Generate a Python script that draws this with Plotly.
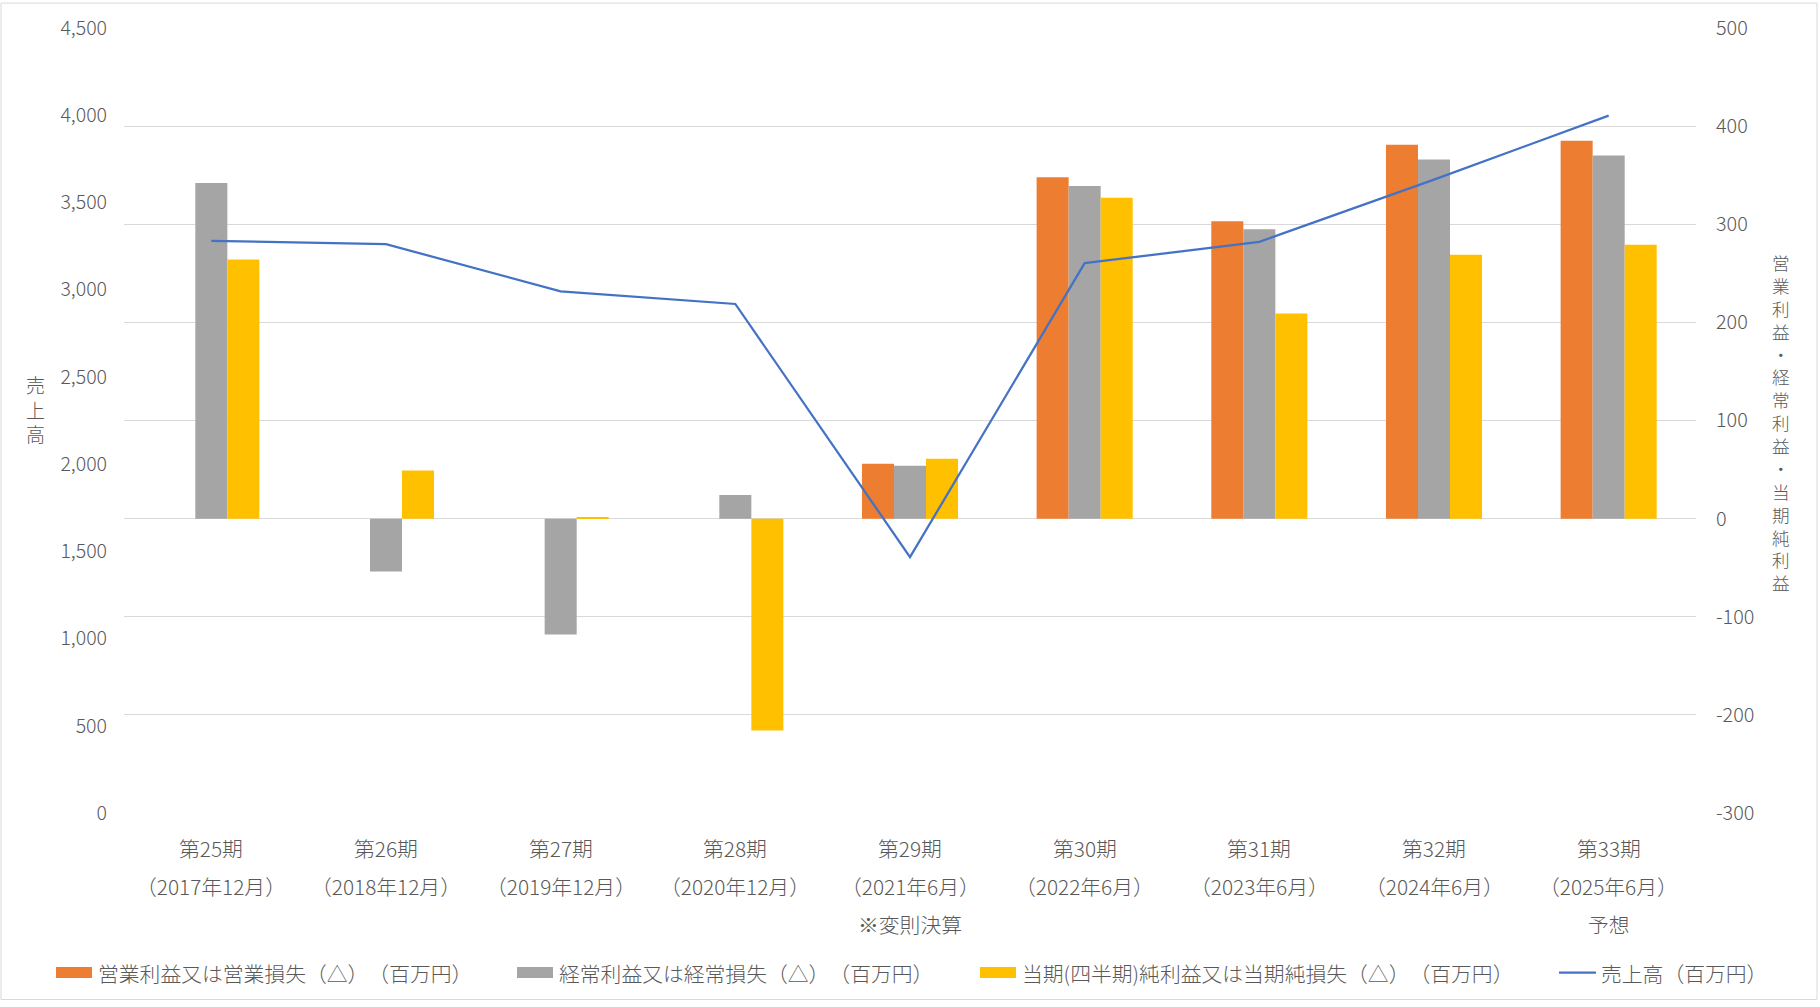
import plotly.graph_objects as go

# ---------------- data ----------------
periods = ["第25期", "第26期", "第27期", "第28期", "第29期", "第30期", "第31期", "第32期", "第33期"]
period_dates = ["（2017年12月）", "（2018年12月）", "（2019年12月）", "（2020年12月）", "（2021年6月）",
                "（2022年6月）", "（2023年6月）", "（2024年6月）", "（2025年6月）"]
period_notes = ["", "", "", "", "※変則決算", "", "", "", "予想"]

operating_income = [None, None, None, None, 56, 348, 303, 381, 385]
ordinary_income = [342, -54, -118, 24, 54, 339, 295, 366, 370]
net_income = [264, 49, 1, -216, 61, 327, 209, 269, 279]
sales = [3280, 3261, 2990, 2918, 1467, 3152, 3274, 3631, 3998]

series_names = ["営業利益又は営業損失（△）\u200b（百万円）",
                "経常利益又は経常損失（△）\u200b（百万円）",
                "当期(四半期)純利益又は当期純損失（△）\u200b（百万円）",
                "売上高（百万円）"]
series_colors = ["#ED7D31", "#A5A5A5", "#FFC000", "#4472C4"]

left_tickvals = [0, 500, 1000, 1500, 2000, 2500, 3000, 3500, 4000, 4500]
left_ticktext = ["0", "500", "1,000", "1,500", "2,000", "2,500", "3,000", "3,500", "4,000", "4,500"]
right_tickvals = [-300, -200, -100, 0, 100, 200, 300, 400, 500]
right_ticktext = ["-300", "-200", "-100", "0", "100", "200", "300", "400", "500"]

left_title = "売上高"
right_title = "営業利益・経常利益・当期純利益"

# ---------------- layout geometry (pixels) ----------------
W, H = 1820, 1007
PL, PR, PT, PB = 124, 1696, 26, 813
FONT = "Noto Sans CJK JP"
TXT = "#595959"


def px_x(x):
    return (x - PL) / (PR - PL)


def px_y(y):
    return (PB - y) / (PB - PT)


fig = go.Figure()

for vals, name, col in zip([operating_income, ordinary_income, net_income], series_names[:3], series_colors[:3]):
    fig.add_trace(go.Bar(x=periods, y=vals, name=name, marker=dict(color=col, line=dict(width=0)),
                         yaxis="y", showlegend=False))

fig.add_trace(go.Scatter(x=periods, y=sales, name=series_names[3], mode="lines",
                         line=dict(color=series_colors[3], width=2.25), yaxis="y2", showlegend=False))

annotations = []
# category labels (three rows)
for i, p in enumerate(periods):
    for txt, ypx in [(p, 848), (period_dates[i], 886), (period_notes[i], 924)]:
        if txt:
            annotations.append(dict(x=p, xref="x", y=px_y(ypx), yref="paper", text=txt, showarrow=False,
                                    xanchor="center", yanchor="middle",
                                    font=dict(family=FONT, size=20.8, color=TXT, weight=300)))

# axis titles (stacked vertical text)
annotations.append(dict(x=px_x(35), xref="paper", y=px_y(408), yref="paper",
                        text="<br>".join(left_title), showarrow=False, xanchor="center", yanchor="middle",
                        font=dict(family=FONT, size=19, color=TXT, weight=300)))
annotations.append(dict(x=px_x(1781), xref="paper", y=px_y(422), yref="paper",
                        text="<br>".join(right_title), showarrow=False, xanchor="center", yanchor="middle",
                        font=dict(family=FONT, size=17.6, color=TXT, weight=300)))

# manual legend
shapes = []
legend_y = 973
legend_starts = [56, 517, 980, 1559]
for i, (name, col, x0) in enumerate(zip(series_names, series_colors, legend_starts)):
    if i < 3:
        shapes.append(dict(type="rect", xref="paper", yref="paper",
                           x0=px_x(x0), x1=px_x(x0 + 36), y0=px_y(legend_y - 5.5), y1=px_y(legend_y + 5.5),
                           fillcolor=col, line=dict(width=0)))
    else:
        shapes.append(dict(type="line", xref="paper", yref="paper",
                           x0=px_x(x0), x1=px_x(x0 + 37), y0=px_y(legend_y), y1=px_y(legend_y),
                           line=dict(color=col, width=2.25)))
    annotations.append(dict(x=px_x(x0 + 40), xref="paper", y=px_y(legend_y), yref="paper", text=name,
                            showarrow=False, xanchor="left", yanchor="middle",
                            font=dict(family=FONT, size=20.8, color=TXT, weight=300)))

# outer chart border
shapes.append(dict(type="rect", xref="paper", yref="paper", x0=px_x(1), x1=px_x(1817), y0=px_y(1), y1=px_y(1000),
                   line=dict(color="#D9D9D9", width=1), fillcolor="rgba(0,0,0,0)", layer="below"))

fig.update_layout(
    width=W, height=H,
    margin=dict(l=PL, r=W - PR, t=PT, b=H - PB, pad=0),
    paper_bgcolor="white", plot_bgcolor="white",
    barmode="group", bargap=0.45, bargroupgap=0,
    font=dict(family=FONT, color=TXT, size=19, weight=300),
    xaxis=dict(type="category", showticklabels=False, showgrid=False, zeroline=False, showline=False,
               ticks="", range=[-0.5, 8.5]),
    yaxis=dict(side="right", range=[-300, 500], tickvals=right_tickvals, ticktext=right_ticktext,
               showgrid=True, gridcolor="#D9D9D9", gridwidth=1, zeroline=False, showline=False, ticks="",
               ticklabelstandoff=19, tickfont=dict(family=FONT, size=19.8, color=TXT, weight=300)),
    yaxis2=dict(side="left", overlaying="y", range=[0, 4500], tickvals=left_tickvals, ticktext=left_ticktext,
                showgrid=False, zeroline=False, showline=False, ticks="",
                ticklabelstandoff=16, tickfont=dict(family=FONT, size=19.5, color=TXT, weight=300)),
    annotations=annotations,
    shapes=shapes,
    showlegend=False,
)

fig.write_html("out.html", config={"displayModeBar": False},
               post_script="document.body.style.margin='0px';")
